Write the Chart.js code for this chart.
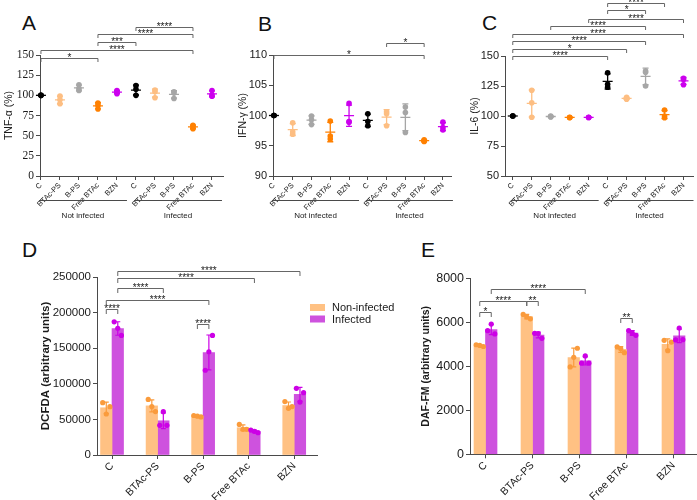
<!DOCTYPE html>
<html>
<head>
<meta charset="utf-8">
<script src="https://cdn.jsdelivr.net/npm/chart.js@4.4.1/dist/chart.umd.min.js"></script>
<style>
  body { margin: 0; background: #fff; }
  #page { position: relative; width: 697px; height: 500px; overflow: hidden; font-family: "Liberation Sans", Arial, sans-serif; }
  .panel { position: absolute; }
  .tag { position: absolute; font-size: 21px; line-height: 21px; color: #111; }
</style>
</head>
<body>
<div id="page">
  <div class="tag" style="left:22px;top:12px">A</div>
  <div class="tag" style="left:258px;top:13px">B</div>
  <div class="tag" style="left:482px;top:12px">C</div>
  <div class="tag" style="left:22px;top:239px">D</div>
  <div class="tag" style="left:421px;top:239px">E</div>

  <div class="panel" style="left:0;top:0"><canvas id="chartA" width="232" height="230"></canvas></div>
  <div class="panel" style="left:232px;top:0"><canvas id="chartB" width="230" height="230"></canvas></div>
  <div class="panel" style="left:462px;top:0"><canvas id="chartC" width="235" height="230"></canvas></div>
  <div class="panel" style="left:0;top:240px"><canvas id="chartD" width="420" height="260"></canvas></div>
  <div class="panel" style="left:420px;top:240px"><canvas id="chartE" width="277" height="260"></canvas></div>
</div>

<script>
// 데이터
const groupNames = ['C', 'BTAc-PS', 'B-PS', 'Free BTAc', 'BZN'];
const scatterCategories = groupNames.concat(groupNames);
const infectionGroups = ['Not infected', 'Infected'];
const infectionSpans = [[0, 4], [5, 9]];
const barSeries = ['Non-infected', 'Infected'];

const tnfTicks = [0, 25, 50, 75, 100, 125, 150];
const ifnTicks = [90, 95, 100, 105, 110];
const il6Ticks = [50, 75, 100, 125, 150];
const dcfdaTicks = [0, 50000, 100000, 150000, 200000, 250000];
const dafTicks = [0, 2000, 4000, 6000, 8000];

// 반복 측정값 3개씩 (not infected 5개, infected 5개)
const tnfValues = [
    [100, 100, 100], [99, 94.5, 89.5], [113, 108.5, 106], [90.5, 87.5, 83], [106, 104, 102],
    [112, 107.5, 100], [106.5, 104.5, 97], [104.5, 103, 96], [63, 61, 58.5], [106, 100.5, 99]
];
const ifnValues = [
    [100, 100, 100], [98.8, 97.3, 96.9], [99.9, 99.3, 98.5], [99.1, 96.6, 96.1], [102, 99, 98.9],
    [100.3, 99, 98.3], [100.6, 100.3, 98.3], [101.4, 100.5, 97.2], [96, 95.8, 95.7], [98.9, 98, 97.6]
];
const il6Values = [
    [100, 100, 100], [121.5, 111, 99], [100, 99.5, 99.2], [99, 98.8, 98.6], [99, 98.8, 98.7],
    [136, 126.5, 124], [115.5, 114.5, 114], [137.5, 136.5, 125], [105, 100, 98.5], [131.5, 130.5, 126]
];

const dcfdaNonInfected = [
    [73500, 57600, 67900], [78000, 68000, 61000], [55500, 54500, 53500], [43000, 36000, 36000], [75000, 65500, 68000]
];
const dcfdaInfected = [
    [187000, 178000, 168000], [41700, 60800, 41700], [119000, 145000, 168000], [35000, 33200, 31300], [93600, 74400, 87500]
];
const dafNonInfected = [
    [4980, 4950, 4900], [6360, 6250, 6160], [3970, 4410, 4820], [4880, 4800, 4620], [5180, 4710, 5100]
];
const dafInfected = [
    [5620, 5920, 5470], [5500, 5490, 5270], [4140, 4470, 4140], [5620, 5510, 5410], [5200, 5740, 5210]
];

// 유의성 표시 [시작, 끝, 별표]
const tnfBrackets = [[0, 3, '*'], [0, 8, '****'], [3, 5, '***'], [3, 8, '****'], [5, 8, '****']];
const ifnBrackets = [[0, 8, '*'], [6, 8, '*']];
const il6Brackets = [[0, 5, '****'], [0, 6, '*'], [0, 7, '****'], [0, 9, '****'],
                     [2, 7, '****'], [4, 9, '****'], [5, 7, '*'], [5, 8, '****']];
// 막대 그래프: [카테고리, 시리즈]
const dcfdaBrackets = [[[0, 0], [0, 1], '****'], [[0, 0], [2, 1], '****'], [[0, 1], [1, 1], '****'],
                       [[0, 1], [3, 1], '****'], [[0, 1], [4, 1], '****'], [[2, 0], [2, 1], '****']];
const dafBrackets = [[[0, 0], [0, 1], '*'], [[0, 0], [1, 0], '****'], [[1, 0], [1, 1], '**'],
                     [[0, 1], [2, 1], '****'], [[3, 0], [3, 1], '**']];

// 스타일
const sans = '"Liberation Sans", Arial, sans-serif';
const serif = '"Liberation Serif", "Times New Roman", serif';
const axisColor = '#4a4a4a';
const textColor = '#1a1a1a';
const bracketColor = '#666666';
const pointColors = ['#000000', '#FDBE82', '#A6A6A6', '#FF8000', '#CC00EE'];
const barColors = ['#FFC183', '#CE52DE'];
const dotColors = ['#FA9B3C', '#CC00E6'];

const mean = arr => arr.reduce((s, v) => s + v, 0) / arr.length;
const sd = arr => {
    const m = mean(arr);
    return Math.sqrt(arr.reduce((s, v) => s + (v - m) ** 2, 0) / (arr.length - 1));
};

// 평균선 + 표준편차
function meanSdPlugin(values) {
    return {
        id: 'meanSd',
        afterDatasetsDraw(chart) {
            const { ctx, scales: { x, y } } = chart;
            ctx.save();
            ctx.lineWidth = 1.3;
            values.forEach((reps, i) => {
                const m = mean(reps), s = sd(reps);
                const px = x.getPixelForValue(i);
                const py = y.getPixelForValue(m);
                ctx.strokeStyle = pointColors[i % pointColors.length];
                ctx.beginPath();
                ctx.moveTo(px - 5, py);
                ctx.lineTo(px + 5, py);
                if (s > 0) {
                    const top = y.getPixelForValue(m + s), bot = y.getPixelForValue(m - s);
                    ctx.moveTo(px, top); ctx.lineTo(px, bot);
                    ctx.moveTo(px - 3, top); ctx.lineTo(px + 3, top);
                    ctx.moveTo(px - 3, bot); ctx.lineTo(px + 3, bot);
                }
                ctx.stroke();
            });
            ctx.restore();
        }
    };
}

function bracketPlugin(items, levels, leg) {
    return {
        id: 'brackets',
        afterDraw(chart) {
            const { ctx, chartArea } = chart;
            const xOf = end => Array.isArray(end)
                ? chart.getDatasetMeta(end[1]).data[end[0]].x
                : chart.scales.x.getPixelForValue(end);
            ctx.save();
            ctx.strokeStyle = bracketColor;
            ctx.lineWidth = 1;
            ctx.fillStyle = textColor;
            ctx.font = '10px ' + sans;
            ctx.textAlign = 'center';
            ctx.textBaseline = 'alphabetic';
            items.forEach(([a, b, stars], k) => {
                const x1 = xOf(a), x2 = xOf(b);
                const yy = Math.round(chartArea.top + levels[k]) + 0.5;
                ctx.beginPath();
                ctx.moveTo(x1, yy + leg);
                ctx.lineTo(x1, yy);
                ctx.lineTo(x2, yy);
                ctx.lineTo(x2, yy + leg);
                ctx.stroke();
                ctx.fillText(stars, (x1 + x2) / 2, yy + 2);
            });
            ctx.restore();
        }
    };
}

const groupPlugin = {
    id: 'infectionGroups',
    afterDraw(chart) {
        const { ctx, chartArea, scales: { x } } = chart;
        const lineY = Math.round(chartArea.bottom + 24) + 0.5;
        ctx.save();
        ctx.strokeStyle = axisColor;
        ctx.lineWidth = 1;
        ctx.fillStyle = textColor;
        ctx.font = '8px ' + sans;
        ctx.textAlign = 'center';
        ctx.textBaseline = 'middle';
        infectionSpans.forEach(([a, b], k) => {
            const x1 = x.getPixelForValue(a) - 2, x2 = x.getPixelForValue(b) + 10;
            ctx.beginPath();
            ctx.moveTo(x1, lineY);
            ctx.lineTo(x2, lineY);
            ctx.stroke();
            ctx.fillText(infectionGroups[k], (x1 + x2) / 2, lineY + 15);
        });
        ctx.restore();
    }
};

function makeScatter(id, values, ticks, title, brackets, lay) {
    const points = [];
    const colors = [];
    values.forEach((reps, i) => reps.forEach(v => {
        points.push({ x: i, y: v });
        colors.push(pointColors[i % pointColors.length]);
    }));

    return new Chart(document.getElementById(id), {
        type: 'scatter',
        data: {
            datasets: [{
                data: points,
                pointBackgroundColor: colors,
                pointBorderWidth: 0,
                pointRadius: 2.8,
                clip: false
            }]
        },
        options: {
            responsive: false,
            animation: false,
            layout: { padding: { left: lay.padLeft, right: lay.padRight, top: lay.padTop, bottom: 0 } },
            scales: {
                x: {
                    type: 'linear',
                    min: lay.xMin,
                    max: lay.xMax,
                    afterBuildTicks: s => { s.ticks = scatterCategories.map((c, i) => ({ value: i })); },
                    afterFit: s => { s.height = lay.xHeight; },
                    ticks: {
                        autoSkip: false, minRotation: 45, maxRotation: 45, padding: 1,
                        color: textColor, font: { family: sans, size: 7.5 },
                        callback: v => scatterCategories[v]
                    },
                    grid: { drawOnChartArea: false, tickLength: 4, color: axisColor },
                    border: { color: axisColor }
                },
                y: {
                    min: ticks[0],
                    max: ticks[ticks.length - 1],
                    afterBuildTicks: s => { s.ticks = ticks.map(v => ({ value: v })); },
                    afterFit: s => { s.width = lay.yWidth; },
                    ticks: { color: textColor, padding: 2, font: { family: lay.tickFamily, size: lay.tickSize } },
                    grid: { drawOnChartArea: false, tickLength: 4, color: axisColor },
                    border: { color: axisColor },
                    title: {
                        display: true, text: title, color: textColor,
                        padding: { top: 0, bottom: 0 }, font: { family: sans, size: 10.5 }
                    }
                }
            },
            plugins: { legend: { display: false }, tooltip: { enabled: false } }
        },
        plugins: [meanSdPlugin(values), bracketPlugin(brackets, lay.levels, 3.5), groupPlugin]
    });
}

// 막대 위 점 + 오차막대
function barDotsPlugin(series) {
    return {
        id: 'barDots',
        afterDatasetsDraw(chart) {
            const { ctx, scales: { y } } = chart;
            ctx.save();
            series.forEach((groups, k) => {
                const meta = chart.getDatasetMeta(k);
                ctx.strokeStyle = dotColors[k];
                ctx.fillStyle = dotColors[k];
                ctx.lineWidth = 1.2;
                groups.forEach((reps, i) => {
                    const bx = meta.data[i].x;
                    const m = mean(reps), s = sd(reps);
                    const top = y.getPixelForValue(m + s), bot = y.getPixelForValue(m - s);
                    ctx.beginPath();
                    ctx.moveTo(bx, top); ctx.lineTo(bx, bot);
                    ctx.moveTo(bx - 2.5, top); ctx.lineTo(bx + 2.5, top);
                    ctx.moveTo(bx - 2.5, bot); ctx.lineTo(bx + 2.5, bot);
                    ctx.stroke();
                    reps.forEach((v, r) => {
                        ctx.beginPath();
                        ctx.arc(bx + (r - 1) * 3.6, y.getPixelForValue(v), 2.6, 0, Math.PI * 2);
                        ctx.fill();
                    });
                });
            });
            ctx.restore();
        }
    };
}

const barLegendPlugin = {
    id: 'barLegend',
    afterDraw(chart) {
        const { ctx, chartArea } = chart;
        ctx.save();
        ctx.font = '11px ' + sans;
        ctx.textBaseline = 'middle';
        barSeries.forEach((name, k) => {
            const lx = chartArea.right - 7;
            const ly = chartArea.top + 27 + k * 11.5;
            ctx.fillStyle = barColors[k];
            ctx.fillRect(lx, ly, 15, 7);
            ctx.fillStyle = textColor;
            ctx.fillText(name, lx + 22, ly + 4);
        });
        ctx.restore();
    }
};

function makeBars(id, nonInfected, infected, ticks, title, brackets, lay, extraPlugins) {
    const series = [nonInfected, infected];
    return new Chart(document.getElementById(id), {
        type: 'bar',
        data: {
            datasets: series.map((groups, k) => ({
                label: barSeries[k],
                data: groups.map((reps, i) => ({ x: i, y: mean(reps) })),
                backgroundColor: barColors[k],
                borderWidth: 0,
                barThickness: 11.5
            }))
        },
        options: {
            responsive: false,
            animation: false,
            layout: { padding: { left: lay.padLeft, right: lay.padRight, top: lay.padTop, bottom: 0 } },
            scales: {
                x: {
                    type: 'linear',
                    offset: false,
                    min: -0.33,
                    max: 4.5,
                    afterBuildTicks: s => { s.ticks = groupNames.map((c, i) => ({ value: i })); },
                    afterFit: s => { s.height = lay.xHeight; },
                    ticks: {
                        autoSkip: false, minRotation: 45, maxRotation: 45, padding: 1,
                        color: textColor, font: { family: sans, size: 10.5 },
                        callback: v => groupNames[v]
                    },
                    grid: { offset: false, drawOnChartArea: false, tickLength: 4, color: axisColor },
                    border: { color: axisColor }
                },
                y: {
                    min: ticks[0],
                    max: ticks[ticks.length - 1],
                    afterBuildTicks: s => { s.ticks = ticks.map(v => ({ value: v })); },
                    afterFit: s => { s.width = lay.yWidth; },
                    ticks: {
                        color: textColor, padding: 2, font: { family: sans, size: lay.tickSize },
                        callback: v => String(v)
                    },
                    grid: { drawOnChartArea: false, tickLength: 4, color: axisColor },
                    border: { color: axisColor },
                    title: {
                        display: true, text: title, color: textColor,
                        padding: { top: 0, bottom: 0 }, font: { family: sans, size: lay.titleSize, weight: 'bold' }
                    }
                }
            },
            plugins: { legend: { display: false }, tooltip: { enabled: false } }
        },
        plugins: [barDotsPlugin(series), bracketPlugin(brackets, lay.levels, 4.5)].concat(extraPlugins)
    });
}

document.addEventListener('DOMContentLoaded', () => {
    makeScatter('chartA', tnfValues, tnfTicks, 'TNF-α (%)', tnfBrackets, {
        padLeft: 3, padRight: 9, padTop: 55, yWidth: 37, xHeight: 54, xMin: -0.05, xMax: 9.58,
        tickFamily: serif, tickSize: 11.5, levels: [3, -5, -13, -21, -28]
    });
    makeScatter('chartB', ifnValues, ifnTicks, 'IFN-γ (%)', ifnBrackets, {
        padLeft: 5, padRight: 11, padTop: 55, yWidth: 36, xHeight: 54, xMin: -0.05, xMax: 9.43,
        tickFamily: sans, tickSize: 11, levels: [0, -12]
    });
    makeScatter('chartC', il6Values, il6Ticks, 'IL-6 (%)', il6Brackets, {
        padLeft: 7, padRight: 2, padTop: 56, yWidth: 36, xHeight: 54, xMin: -0.41, xMax: 9.5,
        tickFamily: sans, tickSize: 11, levels: [0, -7.3, -14.7, -22.3, -30.3, -37.3, -45.7, -52.7]
    });
    makeBars('chartD', dcfdaNonInfected, dcfdaInfected, dcfdaTicks, 'DCFDA (arbitrary units)', dcfdaBrackets, {
        padLeft: 39.4, padRight: 103, padTop: 37, yWidth: 57.6, xHeight: 45,
        tickSize: 11.5, titleSize: 11.5, levels: [32.3, 23, 11.3, 0.7, -6.3, 47]
    }, [barLegendPlugin]);
    makeBars('chartE', dafNonInfected, dafInfected, dafTicks, 'DAF-FM (arbitrary units)', dafBrackets, {
        padLeft: 0, padRight: 0, padTop: 38.3, yWidth: 50, xHeight: 45.7,
        tickSize: 12.5, titleSize: 10.5, levels: [33.4, 22.4, 22.4, 11, 40]
    }, []);
});
</script>
</body>
</html>
